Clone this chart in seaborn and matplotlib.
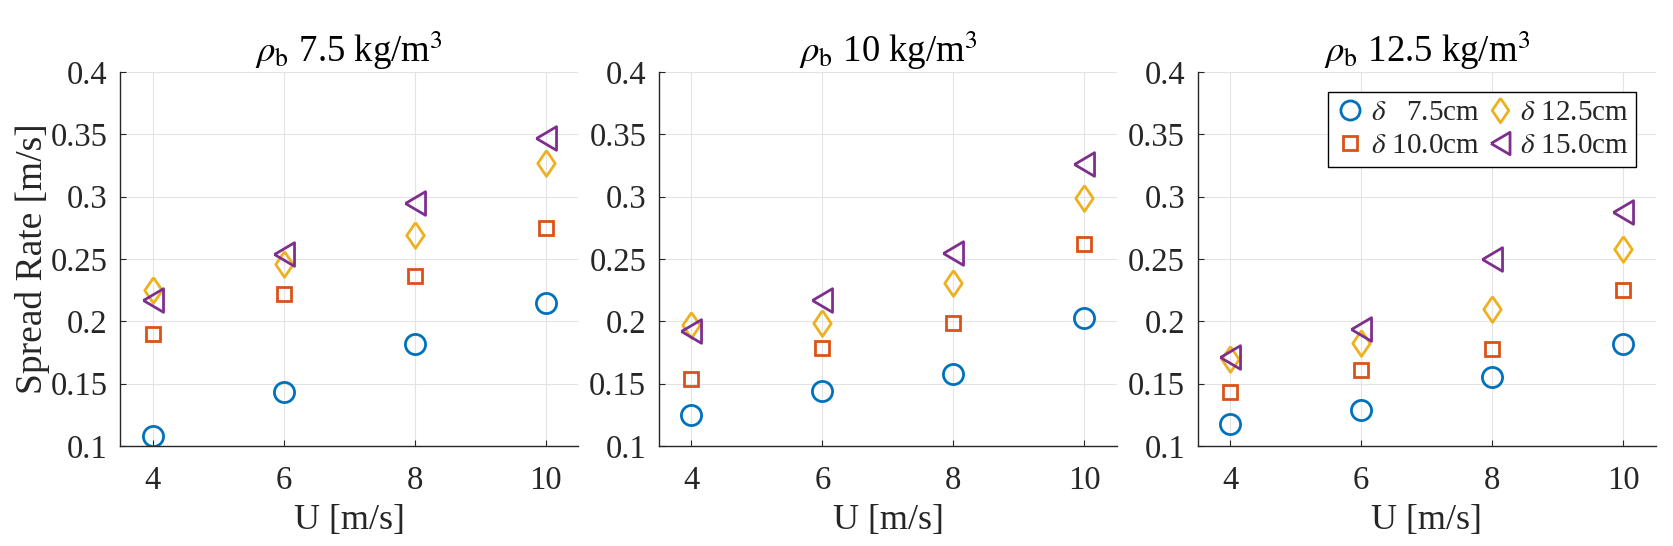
import numpy as np
import pandas as pd
import matplotlib
matplotlib.use("Agg")
import matplotlib.pyplot as plt
import seaborn as sns

# wind speed
wind_speed = [4, 6, 8, 10]

# bulk density panels
panel_titles = [r'$\rho_{\mathrm{b}}$ 7.5 kg/m$^3$',
                r'$\rho_{\mathrm{b}}$ 10 kg/m$^3$',
                r'$\rho_{\mathrm{b}}$ 12.5 kg/m$^3$']

# fuel bed depth series
depth_labels = [r'$\delta$   7.5cm', r'$\delta$ 10.0cm',
                r'$\delta$ 12.5cm', r'$\delta$ 15.0cm']

# spread rate [m/s], one list per depth, per panel
rate_rho_75 = [
    [0.108, 0.143, 0.182, 0.215],
    [0.190, 0.222, 0.236, 0.275],
    [0.225, 0.246, 0.269, 0.327],
    [0.217, 0.254, 0.295, 0.347],
]
rate_rho_10 = [
    [0.125, 0.144, 0.158, 0.203],
    [0.154, 0.179, 0.199, 0.262],
    [0.197, 0.199, 0.231, 0.299],
    [0.192, 0.217, 0.255, 0.326],
]
rate_rho_125 = [
    [0.118, 0.129, 0.155, 0.182],
    [0.143, 0.161, 0.178, 0.225],
    [0.170, 0.183, 0.210, 0.258],
    [0.171, 0.194, 0.250, 0.288],
]

y_ticks = [0.1, 0.15, 0.2, 0.25, 0.3, 0.35, 0.4]
y_tick_labels = ['0.1', '0.15', '0.2', '0.25', '0.3', '0.35', '0.4']

# matlab default colours and marker styles
colors = ['#0072BD', '#D95319', '#EDB120', '#7E2F8E']
left_tri = [(-0.85, 0), (0.85, 1), (0.85, -1), (-0.85, 0)]
diamond = [(0, 1), (0.68, 0), (0, -1), (-0.68, 0), (0, 1)]
markers = ['o', 's', diamond, left_tri]
msizes = [14.5, 10, 18.5, 17]

sns.set_theme(style='whitegrid')
plt.rcParams['font.family'] = ['Liberation Serif', 'DejaVu Serif']
plt.rcParams['mathtext.fontset'] = 'stix'
text_col = '#262626'

fig, axes = plt.subplots(1, 3, figsize=(16.73, 5.46), dpi=100)
fig.subplots_adjust(left=0.0717, right=0.9898, bottom=0.1832, top=0.868, wspace=0.1754)

all_rates = [rate_rho_75, rate_rho_10, rate_rho_125]

for ax, title, rates in zip(axes, panel_titles, all_rates):
    for i, lab in enumerate(depth_labels):
        df = pd.DataFrame({'U': wind_speed, 'rate': rates[i]})
        sns.lineplot(data=df, x='U', y='rate', ax=ax, linestyle='', marker=markers[i],
                     markersize=msizes[i], mfc='none', mec=colors[i], mew=2.0,
                     color=colors[i], label=lab, sort=False, legend=False)
    ax.set_xlim(3.5, 10.5)
    ax.set_ylim(0.1, 0.4)
    ax.set_xticks(wind_speed)
    ax.set_yticks(y_ticks)
    ax.set_yticklabels(y_tick_labels)
    ax.set_xlabel('U [m/s]', fontsize=26, color=text_col, labelpad=6)
    ax.set_ylabel('')
    ax.set_title(title, fontsize=26.5, color='black', pad=7)
    ax.set_facecolor('white')
    ax.grid(True, color='#e3e3e3', linewidth=0.8)
    for s in ['top', 'right']:
        ax.spines[s].set_visible(False)
    for s in ['left', 'bottom']:
        ax.spines[s].set_visible(True)
        ax.spines[s].set_color(text_col)
        ax.spines[s].set_linewidth(1.0)
    ax.tick_params(axis='both', direction='in', length=4, width=0.8, colors=text_col,
                   labelsize=23.5, labelcolor=text_col, left=True, bottom=True)
    ax.tick_params(axis='x', pad=14)
    ax.tick_params(axis='y', pad=9)

axes[0].set_ylabel('Spread Rate [m/s]', fontsize=27, color=text_col, labelpad=0)

handles = [plt.Line2D([], [], linestyle='', marker=markers[i], markersize=msizes[i] * 0.95,
                      mfc='none', mec=colors[i], mew=2.0) for i in range(4)]
leg = axes[2].legend(handles, depth_labels, ncol=2, loc='upper right',
                     bbox_to_anchor=(1636 / 1673, 1 - 92 / 546), bbox_transform=fig.transFigure,
                     fontsize=21, frameon=True, fancybox=False, framealpha=1,
                     edgecolor='black', handlelength=1.0, handletextpad=0.2,
                     columnspacing=0.2, labelspacing=0.25, borderpad=0.25, borderaxespad=0)
leg.get_frame().set_linewidth(1.0)

plt.savefig('out.png', dpi=100)
